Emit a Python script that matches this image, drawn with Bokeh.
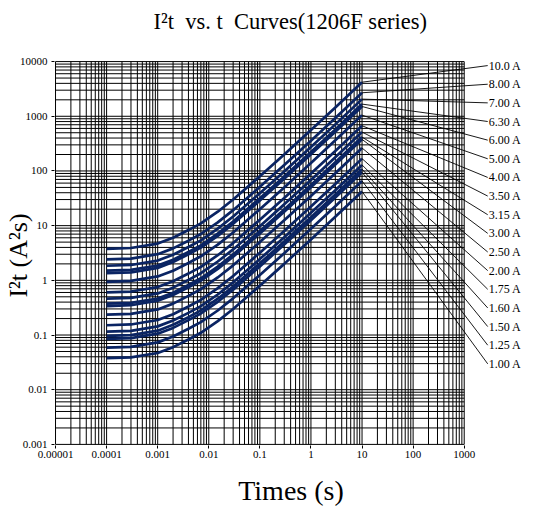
import numpy as np

from bokeh.plotting import figure
from bokeh.models import ColumnDataSource, FixedTicker, Label
from bokeh.core.properties import value
from bokeh.embed import file_html
from bokeh.resources import INLINE

# time points (s) the curves were read at
times = [1e-4, 3e-4, 1e-3, 2e-3, 4e-3, 7e-3, 0.015, 0.03, 0.1, 0.3, 1, 3, 10]

# I2t (A2s), one list per rating
i2t_10a00 = [3.77, 3.9, 4.7, 6.0, 8.3, 11.0, 18.0, 30.0, 80.0, 200.0, 560.0, 1450.0, 4200.0]
i2t_8a00 = [2.41, 2.5, 3.01, 3.84, 5.31, 7.04, 11.5, 19.2, 51.2, 128.0, 358.0, 928.0, 2690.0]
i2t_7a00 = [1.85, 1.91, 2.30, 2.94, 4.07, 5.39, 8.82, 14.7, 39.2, 98.0, 274.0, 711.0, 2060.0]
i2t_6a30 = [1.50, 1.55, 1.87, 2.38, 3.29, 4.37, 7.14, 11.9, 31.8, 79.4, 222.0, 576.0, 1670.0]
i2t_6a00 = [1.36, 1.40, 1.69, 2.16, 2.99, 3.96, 6.48, 10.8, 28.8, 72.0, 202.0, 522.0, 1510.0]
i2t_5a00 = [0.94, 0.975, 1.18, 1.50, 2.08, 2.75, 4.5, 7.5, 20.0, 50.0, 140.0, 363.0, 1050.0]
i2t_4a00 = [0.603, 0.624, 0.752, 0.96, 1.33, 1.76, 2.88, 4.8, 12.8, 32.0, 89.6, 232.0, 672.0]
i2t_3a50 = [0.462, 0.478, 0.576, 0.735, 1.02, 1.35, 2.21, 3.68, 9.8, 24.5, 68.6, 178.0, 515.0]
i2t_3a15 = [0.374, 0.387, 0.466, 0.595, 0.824, 1.09, 1.79, 2.98, 7.94, 19.8, 55.6, 144.0, 417.0]
i2t_3a00 = [0.339, 0.351, 0.423, 0.54, 0.747, 0.99, 1.62, 2.7, 7.2, 18.0, 50.4, 131.0, 378.0]
i2t_2a50 = [0.236, 0.244, 0.294, 0.375, 0.519, 0.688, 1.13, 1.88, 5.0, 12.5, 35.0, 90.6, 263.0]
i2t_2a00 = [0.151, 0.156, 0.188, 0.24, 0.332, 0.44, 0.72, 1.2, 3.2, 8.0, 22.4, 58.0, 168.0]
i2t_1a75 = [0.115, 0.119, 0.144, 0.184, 0.254, 0.337, 0.551, 0.919, 2.45, 6.13, 17.2, 44.4, 129.0]
i2t_1a60 = [0.0965, 0.0998, 0.120, 0.154, 0.212, 0.282, 0.461, 0.768, 2.05, 5.12, 14.3, 37.1, 108.0]
i2t_1a50 = [0.0848, 0.0878, 0.106, 0.135, 0.187, 0.248, 0.405, 0.675, 1.8, 4.5, 12.6, 32.6, 94.5]
i2t_1a25 = [0.0589, 0.0609, 0.0734, 0.0938, 0.130, 0.172, 0.281, 0.469, 1.25, 3.13, 8.75, 22.7, 65.6]
i2t_1a00 = [0.0377, 0.039, 0.047, 0.06, 0.083, 0.11, 0.18, 0.30, 0.80, 2.0, 5.6, 14.5, 42.0]

ratings = ["10.0 A", "8.00 A", "7.00 A", "6.30 A", "6.00 A", "5.00 A", "4.00 A",
           "3.50 A", "3.15 A", "3.00 A", "2.50 A", "2.00 A", "1.75 A", "1.60 A",
           "1.50 A", "1.25 A", "1.00 A"]
curves = [i2t_10a00, i2t_8a00, i2t_7a00, i2t_6a30, i2t_6a00, i2t_5a00, i2t_4a00,
          i2t_3a50, i2t_3a15, i2t_3a00, i2t_2a50, i2t_2a00, i2t_1a75, i2t_1a60,
          i2t_1a50, i2t_1a25, i2t_1a00]

x_ticks = [1e-5, 1e-4, 1e-3, 1e-2, 1e-1, 1, 10, 100, 1000]
x_tick_labels = ["0.00001", "0.0001", "0.001", "0.01", "0.1", "1", "10", "100", "1000"]
y_ticks = [1e-3, 1e-2, 1e-1, 1, 10, 100, 1000, 10000]
y_tick_labels = ["0.001", "0.01", "0.1", "1", "10", "100", "1000", "10000"]

FONT = "Liberation Serif"
NAVY = "#0a2463"
NBSP = "\u00a0"

# plot area runs up to the top edge so the title can sit inside it
p = figure(width=548, height=515, x_axis_type="log", y_axis_type="log",
           x_range=(10**-5.02, 10**4.65), y_range=(10**-3.02, 10**5.117),
           output_backend="svg", toolbar_location=None,
           min_border_left=50, min_border_right=0, min_border_top=0, min_border_bottom=70)
p.grid.visible = False
p.outline_line_color = None
p.background_fill_color = "white"

p.add_layout(Label(x=99, y=424, x_units="screen", y_units="screen",
                   text="I²t" + NBSP + " vs. t" + NBSP + " Curves(1206F series)",
                   text_font=FONT, text_font_size="22.5px", text_color="black",
                   text_align="left", text_baseline="middle"))

# log grid, only over the 1e-5..1e3 x 1e-3..1e4 box
x_lo, x_hi = x_ticks[0], x_ticks[-1]
y_lo, y_hi = y_ticks[0], y_ticks[-1]
grid_x = [m * 10.0**d for d in range(-5, 3) for m in range(1, 10)] + [x_hi]
grid_y = [m * 10.0**d for d in range(-3, 4) for m in range(1, 10)] + [y_hi]
p.segment(x0=grid_x, x1=grid_x, y0=y_lo, y1=y_hi, line_color="black", line_width=1)
p.segment(x0=x_lo, x1=x_hi, y0=grid_y, y1=grid_y, line_color="black", line_width=1)

src = ColumnDataSource(data=dict(xs=[times] * len(curves), ys=curves, name=ratings))
p.multi_line(xs="xs", ys="ys", source=src, line_color=NAVY, line_width=2.7)

# leader lines from each curve end to its label on the right
label_y = list(10 ** np.linspace(3.927, -1.527, len(ratings)))
end_y = [c[-1] for c in curves]
p.segment(x0=times[-1], y0=end_y, x1=10**3.46, y1=label_y, line_color="black", line_width=0.9)
p.text(x=10**3.48, y=label_y, text=ratings, text_font=value(FONT), text_font_size="12px",
       text_align="left", text_baseline="middle", text_color="black")

for ax, ticks, labels in ((p.xaxis, x_ticks, x_tick_labels), (p.yaxis, y_ticks, y_tick_labels)):
    ax.ticker = FixedTicker(ticks=ticks)
    ax.major_label_overrides = dict(zip(ticks, labels))
    ax.axis_line_color = None
    ax.major_tick_out = 3
    ax.major_tick_in = 0
    ax.minor_tick_out = 0
    ax.minor_tick_in = 0
    ax.major_tick_line_color = "black"
    ax.major_label_text_font = FONT
    ax.major_label_text_font_size = "11px"
    ax.major_label_text_color = "black"
    ax.axis_label_text_font = FONT
    ax.axis_label_text_font_style = "normal"
    ax.axis_label_text_color = "black"
p.xaxis.major_label_standoff = 2
p.yaxis.major_label_standoff = 4
# padding spaces move the centred axis titles to where the original has them
p.xaxis.axis_label = "Times (s)" + NBSP * 3
p.xaxis.axis_label_text_font_size = "28px"
p.xaxis.axis_label_standoff = 14
p.yaxis.axis_label = "I²t (A²s)" + NBSP * 10
p.yaxis.axis_label_text_font_size = "26px"
p.yaxis.axis_label_standoff = -16

open("out.html", "w").write(file_html(p, INLINE))
